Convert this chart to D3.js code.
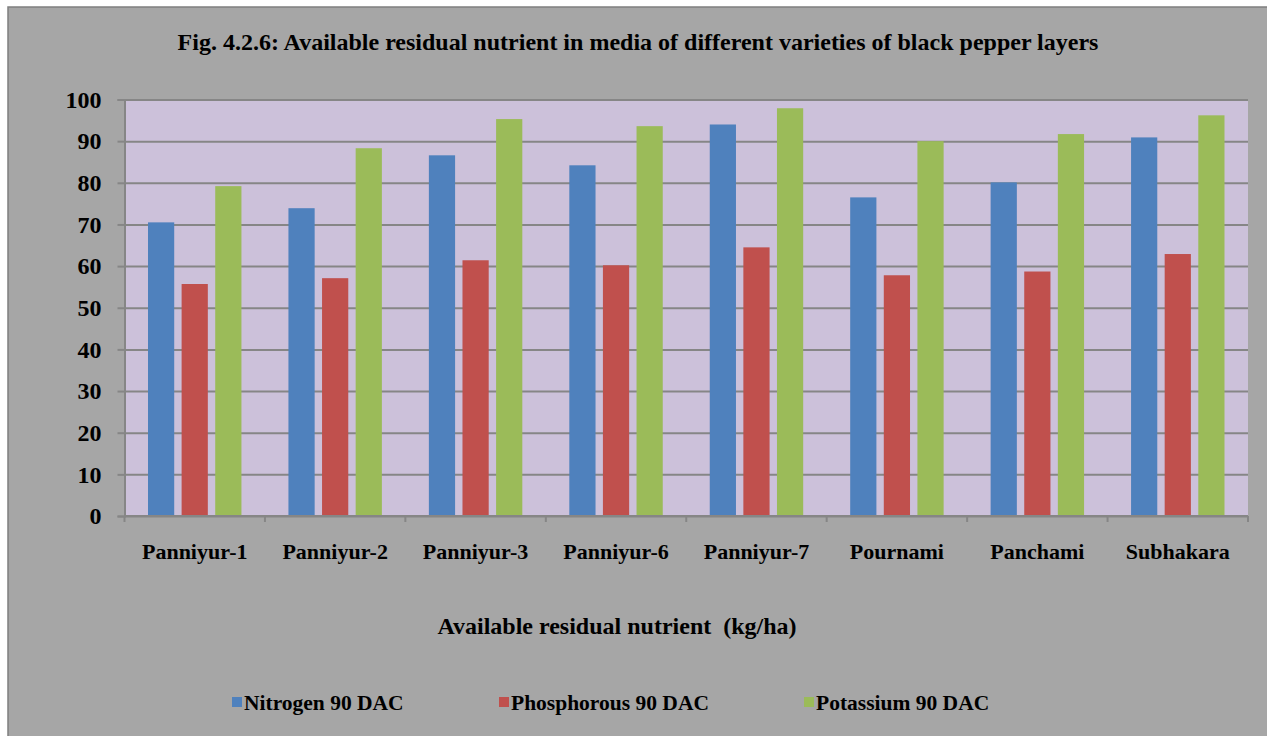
<!DOCTYPE html>
<html>
<head>
<meta charset="utf-8">
<script src="https://cdn.jsdelivr.net/npm/d3@7"></script>
<style>
  body { margin: 0; background: #ffffff; }
  svg { display: block; }
  text { font-family: "Liberation Serif", "Times New Roman", serif; font-weight: bold; fill: #000; }
</style>
</head>
<body>
<svg id="chart" width="1267" height="736"></svg>
<script>
// chart data
var varieties = ["Panniyur-1", "Panniyur-2", "Panniyur-3", "Panniyur-6", "Panniyur-7", "Pournami", "Panchami", "Subhakara"];
var seriesNames = ["Nitrogen 90 DAC", "Phosphorous 90 DAC", "Potassium 90 DAC"];
var nitrogen = [70.5, 73.9, 86.6, 84.2, 94.0, 76.5, 80.1, 90.9];
var phosphorous = [55.7, 57.1, 61.4, 60.2, 64.5, 57.8, 58.7, 62.9];
var potassium = [79.2, 88.3, 95.3, 93.6, 97.9, 90.0, 91.7, 96.2];
var yTicks = [0, 10, 20, 30, 40, 50, 60, 70, 80, 90, 100];
var colors = ["#4f81bd", "#c0504d", "#9bbb59"];

var allSeries = [nitrogen, phosphorous, potassium];

var svg = d3.select('#chart');

// outer chart area
svg.append('rect')
  .attr('x', 8).attr('y', 7)
  .attr('width', 1267).attr('height', 740)
  .attr('fill', '#a6a6a6')
  .attr('stroke', '#7f7f7f')
  .attr('stroke-width', 1.5);

var plot = {left: 124.5, right: 1248, top: 99.5, bottom: 516};

var x = d3.scaleBand()
  .domain(varieties)
  .range([plot.left, plot.right])
  .paddingInner(0)
  .paddingOuter(0);

var groupPad = 23.5;
var xInner = d3.scaleBand()
  .domain(seriesNames)
  .range([groupPad, x.bandwidth() - groupPad])
  .paddingInner(0.22)
  .paddingOuter(0);

var y = d3.scaleLinear()
  .domain([0, 100])
  .range([plot.bottom, plot.top]);

// plot background
svg.append('rect')
  .attr('x', plot.left).attr('y', plot.top)
  .attr('width', plot.right - plot.left)
  .attr('height', plot.bottom - plot.top)
  .attr('fill', '#ccc1da');

// gridlines
svg.append('g')
  .attr('class', 'grid')
  .attr('transform', 'translate(' + plot.left + ',0)')
  .call(d3.axisLeft(y).tickValues(yTicks).tickSize(-(plot.right - plot.left)).tickFormat(''))
  .call(function(g){
    g.select('.domain').remove();
    g.selectAll('line').attr('stroke', '#868686').attr('stroke-width', 2);
  });

// bars
var groups = svg.append('g')
  .selectAll('g')
  .data(varieties)
  .enter()
  .append('g')
  .attr('transform', function(d){ return 'translate(' + x(d) + ',0)'; });

groups.selectAll('rect')
  .data(function(d, i){
    return seriesNames.map(function(s, j){ return {name: s, value: allSeries[j][i], idx: j}; });
  })
  .enter()
  .append('rect')
  .attr('x', function(d){ return xInner(d.name); })
  .attr('y', function(d){ return y(d.value); })
  .attr('width', xInner.bandwidth())
  .attr('height', function(d){ return plot.bottom - y(d.value); })
  .attr('fill', function(d){ return colors[d.idx]; });

// y axis
svg.append('g')
  .attr('transform', 'translate(' + plot.left + ',0)')
  .call(d3.axisLeft(y).tickValues(yTicks).tickSize(7).tickPadding(16))
  .call(function(g){
    g.select('.domain').attr('stroke', '#868686').attr('stroke-width', 2);
    g.selectAll('line').attr('stroke', '#868686').attr('stroke-width', 2);
    g.selectAll('text')
      .attr('font-family', '"Liberation Serif", serif')
      .attr('font-weight', 'bold')
      .attr('font-size', '24px')
      .attr('fill', '#000');
  });

// x axis line and boundary ticks
var xAxis = svg.append('g')
  .attr('transform', 'translate(0,' + plot.bottom + ')');
xAxis.append('line')
  .attr('x1', plot.left).attr('x2', plot.right)
  .attr('stroke', '#868686').attr('stroke-width', 2);
var bounds = varieties.map(function(d){ return x(d); }).concat([plot.right]);
xAxis.selectAll('.btick')
  .data(bounds)
  .enter()
  .append('line')
  .attr('class', 'btick')
  .attr('x1', function(d){ return d; })
  .attr('x2', function(d){ return d; })
  .attr('y1', 0).attr('y2', 6)
  .attr('stroke', '#868686').attr('stroke-width', 2);

xAxis.selectAll('.clabel')
  .data(varieties)
  .enter()
  .append('text')
  .attr('class', 'clabel')
  .attr('x', function(d){ return x(d) + x.bandwidth() / 2; })
  .attr('y', 43)
  .attr('text-anchor', 'middle')
  .attr('font-size', '22px')
  .text(function(d){ return d; });

// title
svg.append('text')
  .attr('x', 638).attr('y', 50)
  .attr('text-anchor', 'middle')
  .attr('font-size', '24px')
  .text('Fig. 4.2.6: Available residual nutrient in media of different varieties of black pepper layers');

// axis title
svg.append('text')
  .attr('x', 617).attr('y', 634)
  .attr('text-anchor', 'middle')
  .attr('font-size', '24px')
  .attr('xml:space', 'preserve')
  .style('white-space', 'pre')
  .text('Available residual nutrient  (kg/ha)');

// legend
var legendX = [232, 499, 804];
var legend = svg.append('g')
  .selectAll('g')
  .data(seriesNames)
  .enter()
  .append('g')
  .attr('transform', function(d, i){ return 'translate(' + legendX[i] + ',697)'; });
legend.append('rect')
  .attr('width', 10).attr('height', 10)
  .attr('fill', function(d, i){ return colors[i]; });
legend.append('text')
  .attr('x', 12).attr('y', 13)
  .attr('font-size', '21.5px')
  .text(function(d){ return d; });
</script>
</body>
</html>
